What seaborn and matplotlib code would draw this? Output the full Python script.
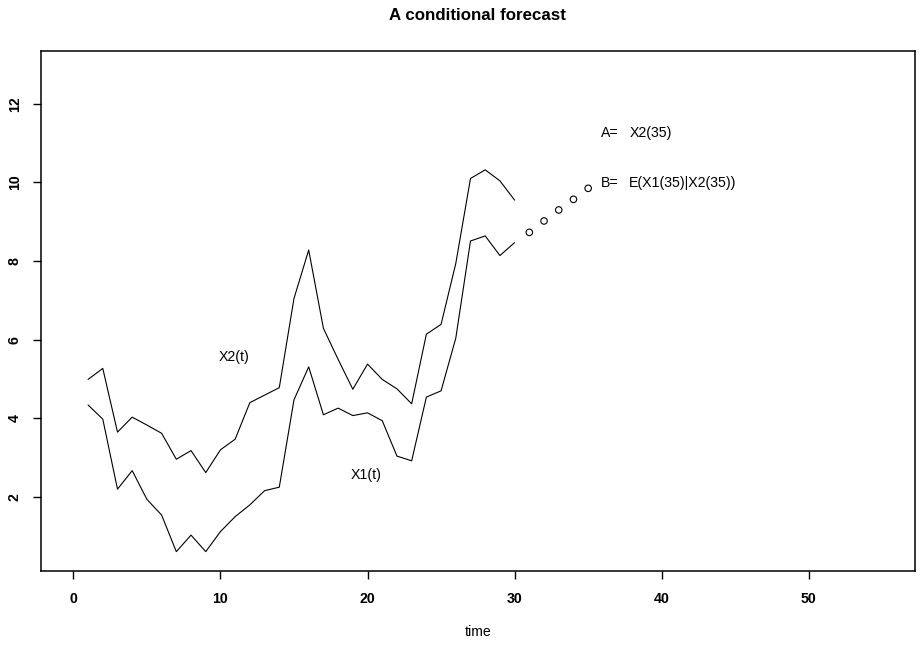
import numpy as np
import pandas as pd
import matplotlib
matplotlib.use("Agg")
import matplotlib.pyplot as plt
import seaborn as sns

# ---- data ----
time_obs = list(range(1, 31))
x2_vals = [4.99, 5.27, 3.65, 4.03, 3.83, 3.62, 2.96, 3.18, 2.62, 3.20,
           3.47, 4.40, 4.59, 4.78, 7.05, 8.28, 6.29, 5.50, 4.74, 5.38,
           4.99, 4.75, 4.37, 6.14, 6.39, 7.94, 10.10, 10.32, 10.04, 9.55]
x1_vals = [4.34, 3.98, 2.20, 2.67, 1.94, 1.54, 0.61, 1.03, 0.61, 1.12,
           1.50, 1.80, 2.16, 2.25, 4.47, 5.31, 4.09, 4.26, 4.07, 4.14,
           3.94, 3.04, 2.92, 4.54, 4.70, 6.04, 8.51, 8.64, 8.14, 8.47]
time_fc = [31, 32, 33, 34, 35]
fc_vals = [8.73, 9.02, 9.30, 9.57, 9.85]
x_ticks = [0, 10, 20, 30, 40, 50]
y_ticks = [2, 4, 6, 8, 10, 12]
title = "A conditional forecast"
xlabel = "time"

sns.set_theme(style="ticks")
plt.rcParams["font.family"] = ["Liberation Sans", "DejaVu Sans"]
for key in ["text.color", "axes.labelcolor", "xtick.color", "ytick.color",
            "axes.edgecolor", "xtick.labelcolor", "ytick.labelcolor"]:
    plt.rcParams[key] = "black"

W, H = 920, 650
fig = plt.figure(figsize=(W / 100, H / 100), dpi=100)
left, right, top, bottom = 41, 914.7, 50.7, 571.3
ax = fig.add_axes([left / W, 1 - bottom / H, (right - left) / W, (bottom - top) / H])

df = pd.DataFrame({"time": time_obs, "X1": x1_vals, "X2": x2_vals})
fc = pd.DataFrame({"time": time_fc, "value": fc_vals})

sns.lineplot(data=df, x="time", y="X2", ax=ax, color="black", linewidth=0.8)
sns.lineplot(data=df, x="time", y="X1", ax=ax, color="black", linewidth=0.8)
sns.scatterplot(data=fc, x="time", y="value", ax=ax, marker="o", s=22,
                facecolor="none", edgecolor="black", linewidth=0.8)

fs = 10.2
ax.text(10.9, 5.57, "X2(t)", ha="center", va="center", fontsize=fs, color="black")
ax.text(19.9, 2.56, "X1(t)", ha="center", va="center", fontsize=fs, color="black")
ax.text(36.5, 11.25, "A=", ha="center", va="center", fontsize=fs, color="black")
ax.text(37.8, 11.25, "X2(35)", ha="left", va="center", fontsize=fs, color="black")
ax.text(36.5, 9.99, "B=", ha="center", va="center", fontsize=fs, color="black")
ax.text(37.8, 9.99, "E(X1(35)|X2(35))", ha="left", va="center", fontsize=fs, color="black")

ax.set_xlim(-2.2, 57.2)
ax.set_ylim(0.11, 13.35)
ax.set_xticks(x_ticks)
ax.set_yticks(y_ticks)
ax.set_xticklabels([str(v) for v in x_ticks], fontweight="bold", fontsize=fs, color="black")
ax.set_yticklabels([str(v) for v in y_ticks], fontweight="bold", fontsize=fs,
                   rotation=90, va="center", color="black")
ax.tick_params(axis="both", length=5.8, width=1.0, color="black", direction="out")
ax.tick_params(axis="x", pad=9)
ax.tick_params(axis="y", pad=8)
ax.set_xlabel("")
ax.set_ylabel("")
for sp in ax.spines.values():
    sp.set_visible(True)
    sp.set_color("black")
    sp.set_linewidth(1.1)

fig.text(477.8 / W, 1 - 15 / H, title, ha="center", va="center",
         fontsize=12.2, fontweight="bold", color="black")
fig.text(477.8 / W, 1 - 632 / H, xlabel, ha="center", va="center", fontsize=fs,
         color="black")

fig.savefig("out.png", dpi=100, facecolor="white")
